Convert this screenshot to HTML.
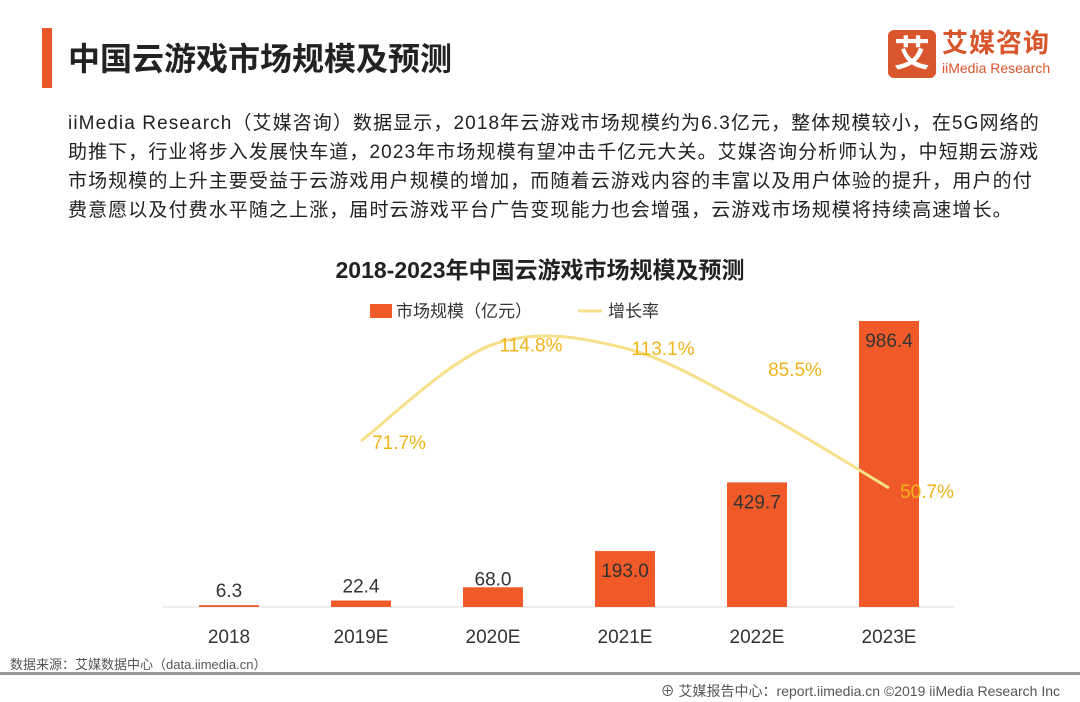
<!DOCTYPE html>
<html><head><meta charset="utf-8">
<style>
body{margin:0;width:1080px;height:702px;background:#fff;position:relative;overflow:hidden;font-family:"Liberation Sans","Noto Sans CJK SC",sans-serif;}
.abs{position:absolute;}
</style></head>
<body>
<div class="abs" style="left:42px;top:28px;width:10px;height:60px;background:#e8562a"></div>
<div class="abs" style="left:68px;top:34px;font-size:32px;font-weight:bold;color:#222">中国云游戏市场规模及预测</div>
<div class="abs" style="left:888px;top:28px;width:172px;height:52px">
  <div style="position:absolute;left:0;top:2px;width:48px;height:48px;background:#d9552b;border-radius:6px;color:#fff;font-size:36px;font-weight:bold;text-align:center;line-height:48px">艾</div>
  <div style="position:absolute;left:54px;top:0;font-size:26px;font-weight:bold;color:#d9552b;letter-spacing:1px;line-height:30px">艾媒咨询</div>
  <div style="position:absolute;left:54px;top:32px;font-size:14px;color:#d9552b;line-height:16px">iiMedia Research</div>
</div>
<div class="abs" style="left:68px;top:109px;width:1010px;font-size:19px;line-height:29px;color:#222;white-space:nowrap;letter-spacing:1.1px">iiMedia Research（艾媒咨询）数据显示，2018年云游戏市场规模约为6.3亿元，整体规模较小，在5G网络的<br>助推下，行业将步入发展快车道，2023年市场规模有望冲击千亿元大关。艾媒咨询分析师认为，中短期云游戏<br>市场规模的上升主要受益于云游戏用户规模的增加，而随着云游戏内容的丰富以及用户体验的提升，用户的付<br>费意愿以及付费水平随之上涨，届时云游戏平台广告变现能力也会增强，云游戏市场规模将持续高速增长。</div>
<svg class="abs" style="left:0;top:0" width="1080" height="702" id="chart">
  <text x="540" y="278" text-anchor="middle" font-size="23" font-weight="bold" fill="#222">2018-2023年中国云游戏市场规模及预测</text>
  <g><rect x="370" y="304" width="22" height="14" fill="#f05a28"/><text x="396" y="317" font-size="17" fill="#333">市场规模（亿元）</text></g>
  <g><line x1="578" y1="311" x2="602" y2="311" stroke="#f7e08a" stroke-width="3"/><text x="608" y="317" font-size="17" fill="#333">增长率</text></g>
  <line x1="163" y1="607" x2="955" y2="607" stroke="#ddd" stroke-width="1"/>
  <g id="bars"></g>
  <path id="line" fill="none" stroke="#f7e08a" stroke-width="3"/>
  <g id="labels"></g>
</svg>
<div class="abs" style="left:10px;top:654px;font-size:13px;color:#555">数据来源：艾媒数据中心（data.iimedia.cn）</div>
<div class="abs" style="left:0;top:672px;width:1080px;height:3px;background:#999"></div>
<div class="abs" style="right:20px;top:681px;font-size:14px;color:#555">⊕ 艾媒报告中心：report.iimedia.cn ©2019  iiMedia Research  Inc</div>
<script>
const categories=["2018","2019E","2020E","2021E","2022E","2023E"];
const marketSize=[6.3,22.4,68.0,193.0,429.7,986.4];
const growthRate=[null,71.7,114.8,113.1,85.5,50.7];
const growthLabels=["","71.7%","114.8%","113.1%","85.5%","50.7%"];
const NS="http://www.w3.org/2000/svg";
const labelDy=[0,8,7,7,-34,10];
const x=i=>229+i*132;
const yBar=v=>607-v*286/986.4;
const yRate=r=>488-(r-50.7)*2.24;
const bars=document.getElementById('bars'),labels=document.getElementById('labels');
function mk(tag,attrs,parent){const e=document.createElementNS(NS,tag);for(const k in attrs)e.setAttribute(k,attrs[k]);parent.appendChild(e);return e;}
categories.forEach((c,i)=>{
  const r=mk('rect',{x:x(i)-30,y:yBar(marketSize[i]),width:60,height:607-yBar(marketSize[i]),fill:'#f05a28'},bars);
  
  
  const t=mk('text',{x:x(i),y:yBar(marketSize[i])-8+(i>=3?34:(i==2?6:0)),'text-anchor':'middle','font-size':19,fill:'#333'},labels);
  t.textContent=marketSize[i].toFixed(1);
  
  
  const xl=mk('text',{x:x(i),y:643,'text-anchor':'middle','font-size':19,fill:'#333'},labels);
  xl.textContent=c;
  
  
});
const pts=[];growthRate.forEach((r,i)=>{if(r!==null)pts.push([x(i),yRate(r),i]);});
let d='M'+pts[0][0]+','+pts[0][1];
for(let k=0;k<pts.length-1;k++){
  const p0=pts[Math.max(k-1,0)],p1=pts[k],p2=pts[k+1],p3=pts[Math.min(k+2,pts.length-1)];
  const c1x=p1[0]+(p2[0]-p0[0])/6,c1y=p1[1]+(p2[1]-p0[1])/6;
  const c2x=p2[0]-(p3[0]-p1[0])/6,c2y=p2[1]-(p3[1]-p1[1])/6;
  d+=` C${c1x},${c1y} ${c2x},${c2y} ${p2[0]},${p2[1]}`;
}
document.getElementById('line').setAttribute('d',d);
pts.forEach(p=>{
  const t=mk('text',{x:p[0]+38,y:p[1]+labelDy[p[2]],'text-anchor':'middle','font-size':19,fill:'#f0b31a'},labels);
  t.textContent=growthLabels[p[2]];
  
  
});
</script>
</body></html>
